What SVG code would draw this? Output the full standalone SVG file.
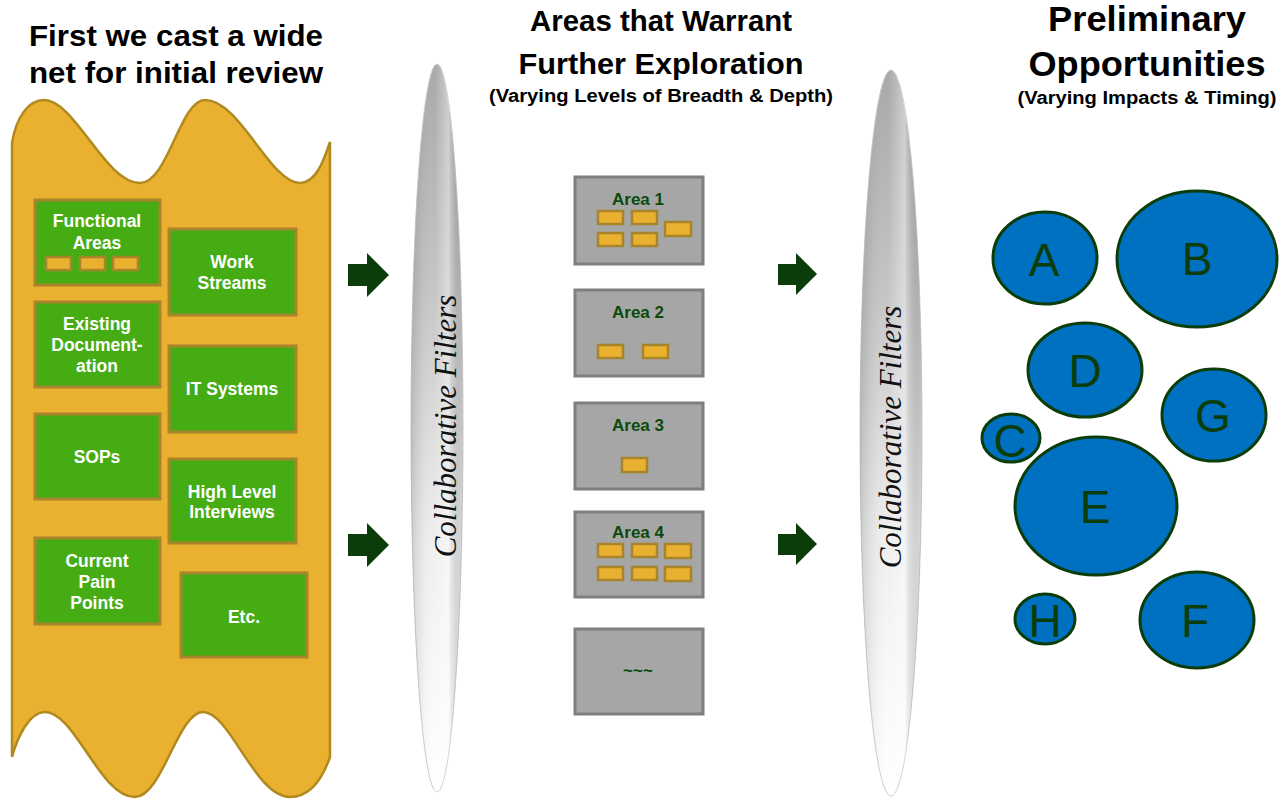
<svg xmlns="http://www.w3.org/2000/svg" width="1286" height="799" viewBox="0 0 1286 799">
<defs>
<style>
.title{font-family:"Liberation Sans",Arial,sans-serif;font-weight:bold;fill:#000;text-anchor:middle}
.gbox{fill:#45AC14;stroke:#A8842A;stroke-width:3}
.glbl{font-family:"Liberation Sans",Arial,sans-serif;font-weight:bold;font-size:17.5px;fill:#fff;text-anchor:middle}
.abox{fill:#A6A6A6;stroke:#7F7F7F;stroke-width:3}
.albl{font-family:"Liberation Sans",Arial,sans-serif;font-weight:bold;font-size:17px;fill:#0C4A0C;text-anchor:middle}
.chip{fill:#E9B12F;stroke:#A8842A;stroke-width:2.5}
.opp{fill:#0070C0;stroke:#0B3D0B;stroke-width:3}
.olbl{font-family:"Liberation Sans",Arial,sans-serif;font-size:46px;fill:#0B3D0B;text-anchor:middle}
.filt{font-family:"Liberation Serif","Times New Roman",serif;font-style:italic;font-size:31px;fill:#111;text-anchor:middle}
.arrow{fill:#0B3D0B}
</style>
<linearGradient id="fv" x1="0" y1="0" x2="0" y2="1">
<stop offset="0" stop-color="#A8A8A8"/>
<stop offset="0.3" stop-color="#C4C4C4"/>
<stop offset="0.65" stop-color="#EFEFEF"/>
<stop offset="1" stop-color="#FFFFFF"/>
</linearGradient>
<linearGradient id="fh" x1="0" y1="0" x2="1" y2="0">
<stop offset="0" stop-color="#000" stop-opacity="0.15"/>
<stop offset="0.45" stop-color="#fff" stop-opacity="0"/>
<stop offset="0.72" stop-color="#fff" stop-opacity="0.4"/>
<stop offset="1" stop-color="#000" stop-opacity="0.08"/>
</linearGradient>
</defs>
<rect width="1286" height="799" fill="#fff"/>

<g id="titles">
<text class="title" x="176" y="46" font-size="30" textLength="294" lengthAdjust="spacingAndGlyphs">First we cast a wide</text>
<text class="title" x="176" y="83" font-size="30" textLength="294" lengthAdjust="spacingAndGlyphs">net for initial review</text>
<text class="title" x="661" y="31" font-size="29" textLength="262" lengthAdjust="spacingAndGlyphs">Areas that Warrant</text>
<text class="title" x="661" y="74" font-size="30" textLength="285" lengthAdjust="spacingAndGlyphs">Further Exploration</text>
<text class="title" x="661" y="102" font-size="18" textLength="344" lengthAdjust="spacingAndGlyphs">(Varying Levels of Breadth &amp; Depth)</text>
<text class="title" x="1147" y="31" font-size="35" textLength="198" lengthAdjust="spacingAndGlyphs">Preliminary</text>
<text class="title" x="1147" y="76" font-size="35" textLength="237" lengthAdjust="spacingAndGlyphs">Opportunities</text>
<text class="title" x="1147" y="104" font-size="18" textLength="259" lengthAdjust="spacingAndGlyphs">(Varying Impacts &amp; Timing)</text>
</g>

<g id="net">
<path d="M12,143 C16,118 28,100 44,100 C75,100 105,183 140,183 C168,183 180,100 205,100 C240,100 270,183 300,183 C316,183 324,160 330,142 L330,757 C322,780 310,797 290,797 C255,797 230,712 203,712 C178,712 162,797 135,797 C100,797 75,712 45,712 C30,712 18,735 12,757 Z" fill="#E9B12F" stroke="#B0891F" stroke-width="2.5"/>
</g>

<g id="functional-areas">
<rect class="gbox" x="35" y="200" width="125" height="85"/>
<text class="glbl" x="97" y="227">Functional</text>
<text class="glbl" x="97" y="249">Areas</text>
<rect class="chip" x="46" y="257" width="25" height="13"/>
<rect class="chip" x="80" y="257" width="25" height="13"/>
<rect class="chip" x="113" y="257" width="25" height="13"/>
</g>
<g id="work-streams">
<rect class="gbox" x="169" y="229" width="127" height="86"/>
<text class="glbl" x="232" y="268">Work</text>
<text class="glbl" x="232" y="289">Streams</text>
</g>
<g id="existing-documentation">
<rect class="gbox" x="35" y="302" width="125" height="85"/>
<text class="glbl" x="97" y="330">Existing</text>
<text class="glbl" x="97" y="351">Document-</text>
<text class="glbl" x="97" y="372">ation</text>
</g>
<g id="it-systems">
<rect class="gbox" x="169" y="346" width="127" height="86"/>
<text class="glbl" x="232" y="395">IT Systems</text>
</g>
<g id="sops">
<rect class="gbox" x="35" y="414" width="125" height="85"/>
<text class="glbl" x="97" y="463">SOPs</text>
</g>
<g id="high-level-interviews">
<rect class="gbox" x="169" y="459" width="127" height="84"/>
<text class="glbl" x="232" y="498">High Level</text>
<text class="glbl" x="232" y="518">Interviews</text>
</g>
<g id="current-pain-points">
<rect class="gbox" x="35" y="538" width="125" height="86"/>
<text class="glbl" x="97" y="567">Current</text>
<text class="glbl" x="97" y="588">Pain</text>
<text class="glbl" x="97" y="609">Points</text>
</g>
<g id="etc">
<rect class="gbox" x="181" y="573" width="126" height="84"/>
<text class="glbl" x="244" y="623">Etc.</text>
</g>

<g id="filter-1">
<ellipse cx="437" cy="428" rx="26" ry="364" fill="url(#fv)" stroke="#CCCCCC" stroke-width="1"/>
<ellipse cx="437" cy="428" rx="26" ry="364" fill="url(#fh)"/>
<text class="filt" transform="translate(456,426) rotate(-90)">Collaborative Filters</text>
</g>

<g id="area-1">
<rect class="abox" x="575" y="177" width="128" height="87"/>
<text class="albl" x="638" y="205">Area 1</text>
<rect class="chip" x="598" y="211" width="25" height="13"/>
<rect class="chip" x="632" y="211" width="25" height="13"/>
<rect class="chip" x="598" y="233" width="25" height="13"/>
<rect class="chip" x="632" y="233" width="25" height="13"/>
<rect class="chip" x="665" y="222" width="26" height="14"/>
</g>
<g id="area-2">
<rect class="abox" x="575" y="290" width="128" height="86"/>
<text class="albl" x="638" y="318">Area 2</text>
<rect class="chip" x="598" y="345" width="25" height="13"/>
<rect class="chip" x="643" y="345" width="25" height="13"/>
</g>
<g id="area-3">
<rect class="abox" x="575" y="403" width="128" height="86"/>
<text class="albl" x="638" y="431">Area 3</text>
<rect class="chip" x="622" y="458" width="25" height="14"/>
</g>
<g id="area-4">
<rect class="abox" x="575" y="512" width="128" height="85"/>
<text class="albl" x="638" y="538">Area 4</text>
<rect class="chip" x="598" y="544" width="25" height="13"/>
<rect class="chip" x="632" y="544" width="25" height="13"/>
<rect class="chip" x="665" y="544" width="26" height="14"/>
<rect class="chip" x="598" y="567" width="25" height="13"/>
<rect class="chip" x="632" y="567" width="25" height="13"/>
<rect class="chip" x="665" y="567" width="26" height="14"/>
</g>
<g id="area-more">
<rect class="abox" x="575" y="629" width="128" height="85"/>
<text class="albl" x="638" y="676" font-size="14">~~~</text>
</g>

<g id="filter-2">
<ellipse cx="891" cy="433" rx="31" ry="363" fill="url(#fv)" stroke="#CCCCCC" stroke-width="1"/>
<ellipse cx="891" cy="433" rx="31" ry="363" fill="url(#fh)"/>
<text class="filt" transform="translate(901,437) rotate(-90)">Collaborative Filters</text>
</g>

<g id="connectors">
<path class="arrow" d="M348,264 H367 V253 L389,275 L367,297 V286 H348 Z"/>
<path class="arrow" d="M348,534 H367 V523 L389,545 L367,567 V556 H348 Z"/>
<path class="arrow" d="M778,264 H796 V253 L817,274 L796,295 V285 H778 Z"/>
<path class="arrow" d="M778,534 H796 V523 L817,544 L796,565 V555 H778 Z"/>
</g>

<g id="opp-A"><ellipse class="opp" cx="1045" cy="258" rx="52" ry="46"/><text class="olbl" x="1044" y="276">A</text></g>
<g id="opp-B"><ellipse class="opp" cx="1197" cy="259" rx="80" ry="68"/><text class="olbl" x="1197" y="275">B</text></g>
<g id="opp-D"><ellipse class="opp" cx="1085" cy="370" rx="57" ry="47"/><text class="olbl" x="1085" y="387">D</text></g>
<g id="opp-G"><ellipse class="opp" cx="1214" cy="415" rx="52" ry="46"/><text class="olbl" x="1213" y="432">G</text></g>
<g id="opp-C"><ellipse class="opp" cx="1011" cy="438" rx="29" ry="24"/><text class="olbl" x="1010" y="457">C</text></g>
<g id="opp-E"><ellipse class="opp" cx="1096" cy="506" rx="81" ry="69"/><text class="olbl" x="1095" y="523">E</text></g>
<g id="opp-H"><ellipse class="opp" cx="1045" cy="619" rx="30" ry="25"/><text class="olbl" x="1045" y="637">H</text></g>
<g id="opp-F"><ellipse class="opp" cx="1197" cy="620" rx="57" ry="48"/><text class="olbl" x="1195" y="637">F</text></g>
</svg>
